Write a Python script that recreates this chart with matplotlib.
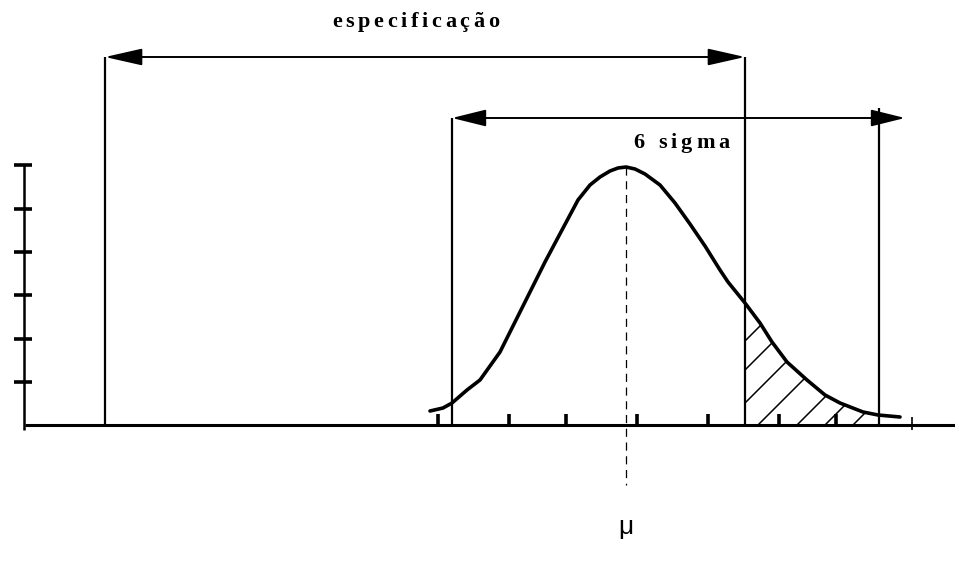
import matplotlib
matplotlib.use('Agg')
import matplotlib.pyplot as plt
import numpy as np
from matplotlib.font_manager import FontProperties
from matplotlib.patches import Polygon

# ---- data (x in drawing units, y = height above the baseline) ----
curve_x = [430, 443, 452, 467, 480, 500, 520, 545, 562, 578, 590, 600, 610,
           618, 626, 635, 645, 660, 675, 690, 705, 720, 728, 745, 760, 772,
           787, 807, 825, 840, 863, 878, 900]
curve_h = [14, 17, 22, 35, 45, 73, 113, 163, 195, 225, 240, 248, 254,
           257, 258, 256, 251, 240, 222, 201, 179, 155, 143, 122, 102, 83,
           63, 45, 30, 22, 13, 10, 8]
mu = 626
lsl, usl = 105, 745
spec_arrow_h = 368
six_left, six_right, six_tip = 452, 879, 905
six_arrow_h = 307
six_line_top = 317
x_ticks_major = [438, 509, 566, 637, 708, 779, 836]
x_ticks_minor = [912]
y_ticks = [43, 86, 130, 173, 216, 260]
hatch_base = [661, 690, 723, 758, 797, 825, 853]
hatch_end = 878
label_spec = "especificação"
label_six = "6 sigma"
label_mu = "μ"

fig = plt.figure(figsize=(9.55, 5.62), dpi=100)
ax = fig.add_axes([0, 0, 1, 1])
ax.set_xlim(0, 955)
ax.set_ylim(-137, 425)
ax.axis('off')

K = 'black'

# axes
ax.plot([25, 955], [0, 0], color=K, lw=2.2, solid_capstyle='butt')
ax.plot([24, 24], [-5, y_ticks[-1]], color=K, lw=1.8, solid_capstyle='butt')
ax.hlines(y_ticks, 14, 32, color=K, lw=2.6)
ax.vlines(x_ticks_major, -2, 11, color=K, lw=2.6)
ax.vlines(x_ticks_minor, -5, 8, color=K, lw=1.2)

# vertical limit lines
ax.vlines([lsl, usl], 0, spec_arrow_h, color=K, lw=1.6)
ax.vlines([six_left], 0, six_arrow_h, color=K, lw=1.6)
ax.vlines([six_right], 0, six_line_top, color=K, lw=1.6)

# arrows
ax.annotate('', xy=(lsl, spec_arrow_h), xytext=(usl, spec_arrow_h),
            arrowprops=dict(arrowstyle='<|-|>,head_length=2.3,head_width=0.52',
                            color=K, lw=1.4, shrinkA=0, shrinkB=0,
                            mutation_scale=10))
ax.annotate('', xy=(six_left, six_arrow_h), xytext=(six_tip, six_arrow_h),
            arrowprops=dict(arrowstyle='<|-|>,head_length=2.1,head_width=0.52',
                            color=K, lw=1.4, shrinkA=0, shrinkB=0,
                            mutation_scale=10))

# normal curve
ax.plot(curve_x, curve_h, color=K, lw=2.6, solid_capstyle='round',
        solid_joinstyle='round')

# dashed mean line
ax.plot([mu, mu], [max(curve_h), -60], color=K, lw=0.9, dashes=(6.5, 4.5))

# hatched tail region (clip polygon built from the curve)
cx = np.array(curve_x)
ch = np.array(curve_h)
m = (cx >= usl) & (cx <= hatch_end)
verts = [(usl, 0)] + list(zip(cx[m], ch[m])) + [(cx[m][-1], 0)]
clip = Polygon(verts, closed=True, facecolor='none', edgecolor='none',
               transform=ax.transData)
ax.add_patch(clip)
for b in hatch_base:
    ln, = ax.plot([b, b + 400], [0, 400], color=K, lw=1.1)
    ln.set_clip_path(clip)


# letter-spaced text
def spaced_text(s, x0, y, fp, spacing):
    r = fig.canvas.get_renderer()
    bar_w = r.get_text_width_height_descent('|', fp, ismath=False)[0]
    for i, ch_ in enumerate(s):
        if i == 0:
            off = 0
        else:
            off = r.get_text_width_height_descent(s[:i] + '|', fp, ismath=False)[0] - bar_w
        ax.text(x0 + off + i * spacing, y, ch_, fontproperties=fp,
                ha='left', va='baseline', color=K)


fp_serif = FontProperties(family='Liberation Serif', weight='bold', size=16)
spaced_text(label_spec, 332, 398, fp_serif, 3.6)
spaced_text(label_six, 633, 277, fp_serif, 4.0)

ax.text(mu, -102, label_mu, ha='center', va='center', fontsize=19,
        family='Liberation Sans', color=K)

fig.savefig('out.png', dpi=100)
